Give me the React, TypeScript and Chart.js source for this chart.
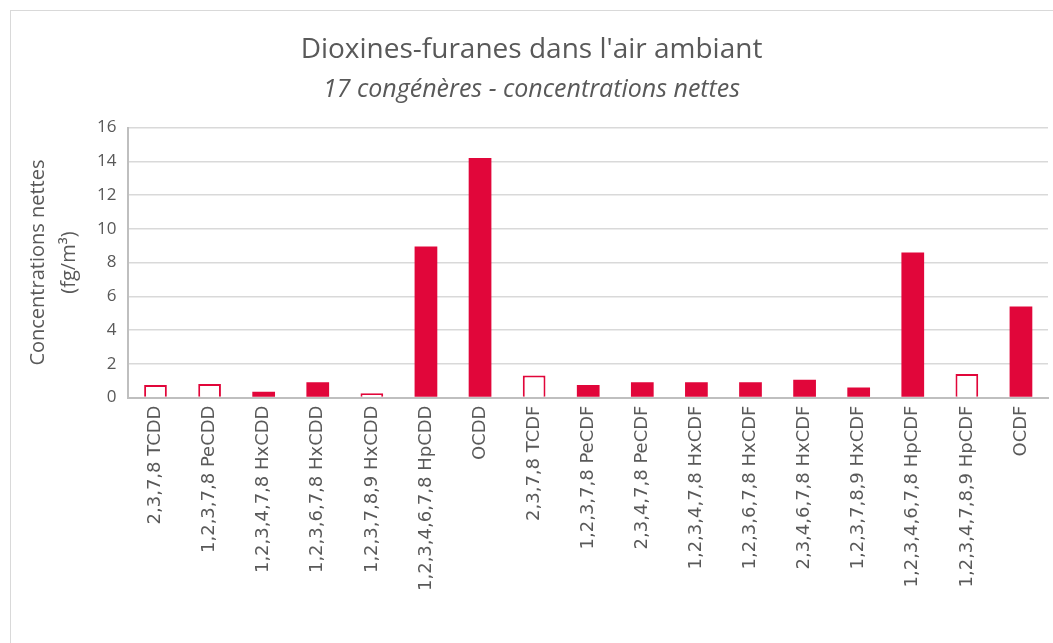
import React, { useEffect, useRef } from 'react';
import { Chart, registerables } from 'chart.js';

Chart.register(...registerables);

const categories = [
  '2,3,7,8 TCDD',
  '1,2,3,7,8 PeCDD',
  '1,2,3,4,7,8 HxCDD',
  '1,2,3,6,7,8 HxCDD',
  '1,2,3,7,8,9 HxCDD',
  '1,2,3,4,6,7,8 HpCDD',
  'OCDD',
  '2,3,7,8 TCDF',
  '1,2,3,7,8 PeCDF',
  '2,3,4,7,8 PeCDF',
  '1,2,3,4,7,8 HxCDF',
  '1,2,3,6,7,8 HxCDF',
  '2,3,4,6,7,8 HxCDF',
  '1,2,3,7,8,9 HxCDF',
  '1,2,3,4,6,7,8 HpCDF',
  '1,2,3,4,7,8,9 HpCDF',
  'OCDF',
];

const values = [0.75, 0.8, 0.35, 0.9, 0.25, 8.95, 14.2, 1.3, 0.75, 0.9, 0.9, 0.9, 1.05, 0.6, 8.6, 1.4, 5.4];

// true = hollow bar (value below quantification limit)
const hollow = [true, true, false, false, true, false, false, true, false, false, false, false, false, false, false, true, false];

const titleText = "Dioxines-furanes dans l'air ambiant";
const subtitleText = '17 congénères - concentrations nettes';
const yAxisTitle = ['Concentrations nettes', '(fg/m³)'];
const yMin = 0;
const yMax = 16;
const yStep = 2;

const RED = '#E1063A';
const TEXT = '#595959';

export default function App() {
  const ref = useRef<HTMLCanvasElement | null>(null);

  useEffect(() => {
    if (!ref.current) return;
    const chart = new Chart(ref.current, {
      type: 'bar',
      data: {
        labels: categories,
        datasets: [
          {
            data: values,
            backgroundColor: hollow.map((h) => (h ? '#FFFFFF' : RED)),
            borderColor: RED,
            borderWidth: hollow.map((h) => (h ? 2 : 0)),
            barPercentage: 0.42,
            categoryPercentage: 1,
          },
        ],
      },
      options: {
        responsive: false,
        animation: false,
        layout: { padding: { top: 0, right: 5, bottom: 42, left: 4 } },
        plugins: {
          legend: { display: false },
          tooltip: { enabled: false },
          title: {
            display: true,
            text: titleText,
            color: TEXT,
            font: { family: 'Open Sans', size: 28, weight: 'normal' },
            padding: { top: 22, bottom: 3 },
          },
          subtitle: {
            display: true,
            text: subtitleText,
            color: TEXT,
            font: { family: 'Open Sans', size: 25, style: 'italic', weight: 'normal' },
            padding: { top: 5, bottom: 23 },
          },
        },
        scales: {
          x: {
            grid: { display: false, drawTicks: false },
            border: { display: true, color: '#BFBFBF', width: 2 },
            ticks: {
              color: TEXT,
              font: { family: 'DejaVu Sans', size: 18 },
              minRotation: 90,
              maxRotation: 90,
              autoSkip: false,
              padding: 8,
            },
          },
          y: {
            min: yMin,
            max: yMax,
            grid: { color: '#D9D9D9', drawTicks: false, lineWidth: 1.5 },
            border: { display: true, color: '#BFBFBF', width: 2 },
            ticks: {
              stepSize: yStep,
              color: TEXT,
              font: { family: 'Open Sans', size: 17 },
              padding: 12,
            },
            title: {
              display: true,
              text: yAxisTitle,
              color: TEXT,
              font: { family: 'Open Sans', size: 20, lineHeight: 1.55 },
              padding: { top: 8, bottom: 0 },
            },
          },
        },
      },
    });
    return () => chart.destroy();
  }, []);

  return (
    <div
      style={{
        position: 'absolute',
        left: 10,
        top: 10,
        width: 1070,
        height: 660,
        border: '1px solid #D9D9D9',
        boxSizing: 'border-box',
        background: '#FFFFFF',
      }}
    >
      <canvas ref={ref} width={1042} height={630} style={{ display: 'block' }} />
    </div>
  );
}
